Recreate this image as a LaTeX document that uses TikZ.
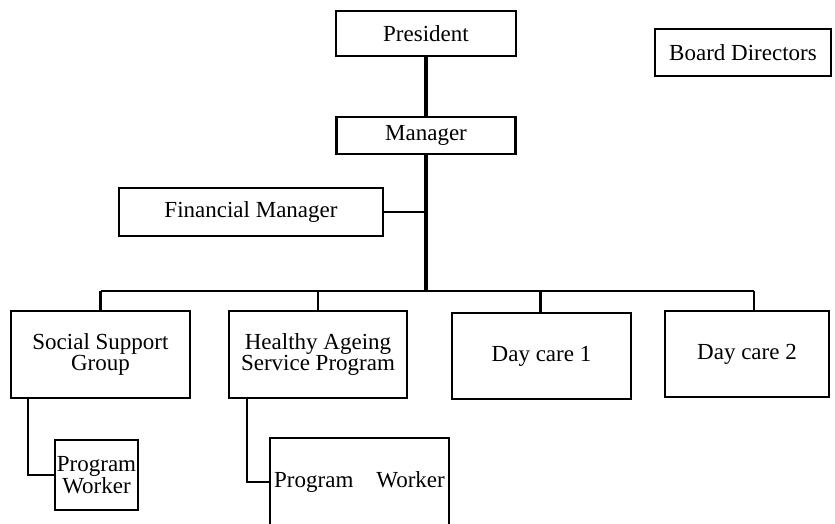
\documentclass[tikz,border=0pt]{standalone}
\usepackage{fontspec}
\setmainfont{Liberation Serif}
\usetikzlibrary{calc}
\tikzset{
  orgbox/.style={draw, line width=2.8pt, inner sep=0pt, align=center,
    font=\fontsize{23}{20}\selectfont},
  link/.style={line width=2.2pt},
  trunk/.style={line width=3.4pt}
}

\begin{document}
\begin{tikzpicture}[x=1pt,y=-1pt]
\clip (0,0) rectangle (835,523);
% top of the chart
\node[orgbox, minimum width=180, minimum height=45] (pres) at (426,33.5) {President};
\node[orgbox, minimum width=176, minimum height=47] (board) at (743,52.5) {Board Directors};
\node[orgbox, minimum width=179, minimum height=37] (mgr) at (426,135.5) {Manager};
\node[orgbox, minimum width=264, minimum height=48] (fin) at (251,212) {Financial Manager};
\coordinate (bus) at (426,291);
% the four units
\node[orgbox, minimum width=179, minimum height=87] (ssg) at (100.5,354.5) {Social Support\\Group};
\node[orgbox, minimum width=178, minimum height=87] (hasp) at (318,354.5) {Healthy Ageing\\Service Program};
\node[orgbox, minimum width=179, minimum height=86] (dc1) at (541.5,356) {Day care 1};
\node[orgbox, minimum width=164, minimum height=86] (dc2) at (747,354) {Day care 2};
% workers
\node[orgbox, minimum width=83, minimum height=70] (pw1) at (96.5,475) {Program\\Worker};
\node[orgbox, minimum width=179, minimum height=88] (pw2) at (359.5,482) {Program\quad Worker};

\draw[trunk] (pres.south) -- (mgr.north);
\draw[trunk] (mgr.south) -- (bus);
\draw[link] (fin.east) -- (fin.east -| bus);
\draw[link] (ssg.north |- bus) -- ($(dc2.north |- bus)+(7,0)$);
\foreach \u/\dx in {ssg/0, hasp/0, dc1/-1, dc2/7} {
  \draw[link] ($(\u.north)+(\dx,0)$) -- ($(\u.north |- bus)+(\dx,0)$);
}
\draw[link] ($(ssg.south west)+(18,0)$) |- (pw1.west);
\draw[link] ($(hasp.south west)+(19,0)$) |- (pw2.west);
\end{tikzpicture}
\end{document}
